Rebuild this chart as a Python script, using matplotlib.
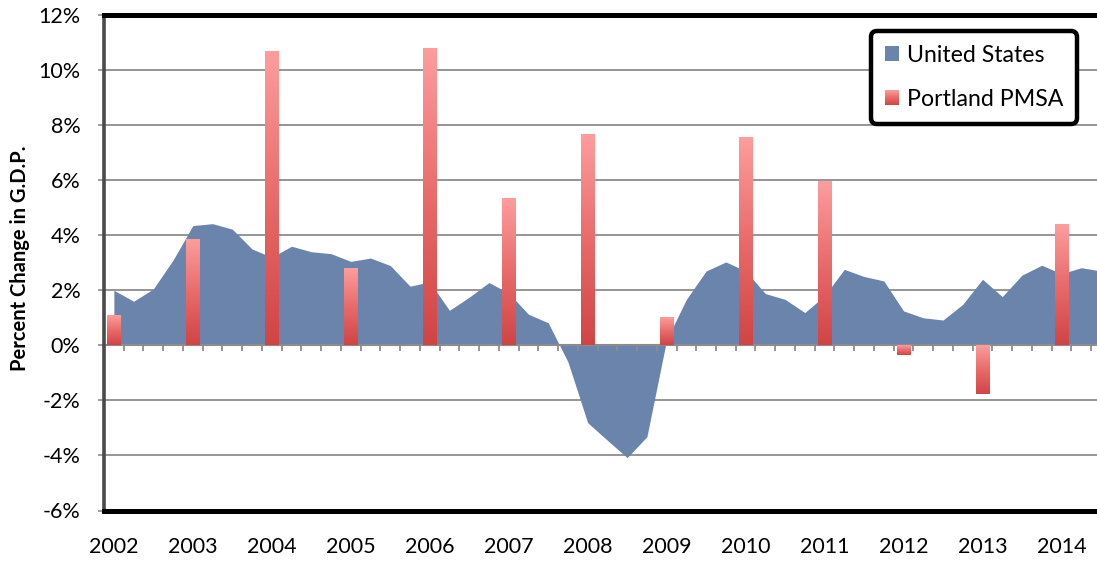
import numpy as np
import matplotlib
matplotlib.use("Agg")
import matplotlib.pyplot as plt
from matplotlib.colors import LinearSegmentedColormap
from matplotlib.patches import Patch
from matplotlib.legend_handler import HandlerBase
from matplotlib.image import BboxImage
from matplotlib.transforms import Bbox, TransformedBbox

plt.rcParams['font.family'] = ['Lato', 'DejaVu Sans']

# US quarterly GDP change (%), 2002 Q1 onward
us_gdp = [2.0, 1.6, 2.05, 3.1, 4.35, 4.42, 4.22, 3.5, 3.2, 3.6, 3.4, 3.33,
          3.05, 3.17, 2.9, 2.15, 2.3, 1.27, 1.75, 2.28, 1.9, 1.13, 0.82, -0.6,
          -2.81, -3.45, -4.08, -3.32, 0.2, 1.67, 2.7, 3.03, 2.7, 1.88, 1.67, 1.19,
          1.8, 2.76, 2.5, 2.34, 1.25, 1.0, 0.92, 1.49, 2.4, 1.77, 2.55, 2.91,
          2.6, 2.82, 2.7]

# Portland PMSA annual GDP change (%)
years = ['2002', '2003', '2004', '2005', '2006', '2007', '2008', '2009',
         '2010', '2011', '2012', '2013', '2014']
portland = [1.06, 3.84, 10.65, 2.77, 10.78, 5.33, 7.63, 0.99, 7.55, 5.95,
            -0.35, -1.75, 4.38]

y_ticks = [-6, -4, -2, 0, 2, 4, 6, 8, 10, 12]
y_labels = ['-6%', '-4%', '-2%', '0%', '2%', '4%', '6%', '8%', '10%', '12%']

blue = '#6b84ab'
grid_gray = '#8c8c8c'
bar_cmap = LinearSegmentedColormap.from_list('bar', ['#d14444', '#e96b6b', '#fd9d9d'])
ramp = np.linspace(0, 1, 128).reshape(-1, 1)


class GradientSwatch(HandlerBase):
    def create_artists(self, legend, orig_handle, xdescent, ydescent,
                       width, height, fontsize, trans):
        box = Bbox.from_bounds(-xdescent, -ydescent, width, height)
        img = BboxImage(TransformedBbox(box, trans), cmap=bar_cmap,
                        interpolation='bilinear', origin='lower')
        img.set_data(ramp)
        return [img]


fig = plt.figure(figsize=(10.97, 5.62), dpi=100)
ax = fig.add_axes([104 / 1097, 1 - 510.5 / 562, 1 - 104 / 1097, (510.5 - 15) / 562])

qx = np.arange(len(us_gdp))
bx = np.arange(len(years)) * 4

for y in y_ticks:
    if y != 0:
        ax.axhline(y, color=grid_gray, lw=1.3, zorder=0.5)

ax.fill_between(qx, us_gdp, 0, color=blue, lw=0, zorder=1)

# category axis at zero with quarter ticks
ax.axhline(0, color=grid_gray, lw=1.5, zorder=2)
ax.vlines(np.arange(0.5, len(us_gdp), 1), -0.22, 0, color=grid_gray, lw=1.3, zorder=2)

bw = 0.7
for x, v in zip(bx, portland):
    ax.imshow(ramp, cmap=bar_cmap, origin='lower', aspect='auto',
              extent=(x - bw / 2, x + bw / 2, min(0, v), max(0, v)),
              interpolation='bilinear', zorder=3)

ax.set_xlim(-0.5, 49.8)
ax.set_ylim(-6, 12)

ax.set_yticks(y_ticks)
ax.set_yticklabels(y_labels)
ax.set_xticks(bx)
ax.set_xticklabels(years)
ax.tick_params(axis='y', length=4, width=1.2, color=grid_gray, pad=13, labelsize=15.5)
ax.tick_params(axis='x', length=0, pad=19, labelsize=15.5)

for side in ['top', 'bottom']:
    ax.spines[side].set_linewidth(3.6)
    ax.spines[side].set_color('black')
ax.spines['left'].set_linewidth(2.6)
ax.spines['left'].set_color('#4a4a4a')
ax.spines['right'].set_visible(False)

fig.text(20 / 1097, 1 - 258 / 562, 'Percent Change in G.D.P.', rotation=90,
         ha='center', va='center', fontsize=14.5, fontweight='bold')

handles = [Patch(facecolor=blue), Patch(facecolor='#e96b6b')]
leg = ax.legend(handles, ['United States', 'Portland PMSA'],
                handler_map={handles[1]: GradientSwatch()},
                loc='upper right', bbox_to_anchor=(0.980, 0.968),
                fontsize=16.7, frameon=True, fancybox=True, framealpha=1,
                borderpad=0.6, labelspacing=1.0, handlelength=0.6,
                handleheight=0.6, handletextpad=0.35, borderaxespad=0)
leg.get_frame().set_linewidth(3.2)
leg.get_frame().set_edgecolor('black')
leg.get_frame().set_boxstyle('round,pad=0,rounding_size=0.25')
leg.set_zorder(5)

fig.savefig('out.png', dpi=100)
